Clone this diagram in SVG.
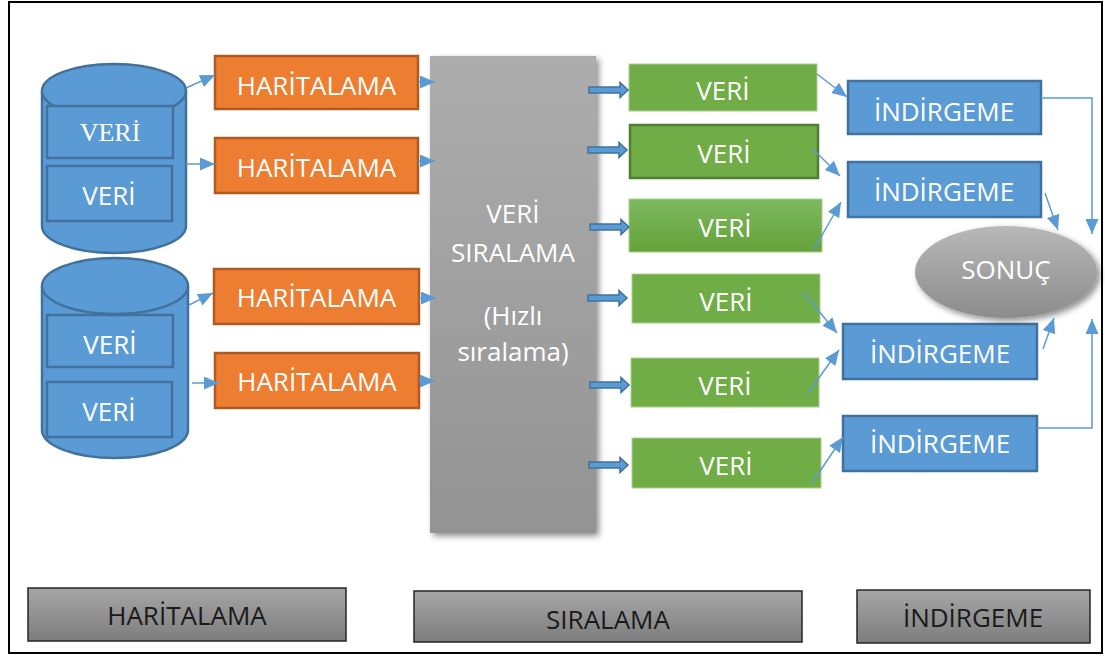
<svg xmlns="http://www.w3.org/2000/svg" width="1105" height="656" viewBox="0 0 1105 656">
  <defs>
    <style>
      .lbl { font-family: "Open Sans", "Liberation Sans", sans-serif; font-size: 26px; fill: #ffffff; text-anchor: middle; }
      .dark { fill: #1a1a1a; }
      .cyl { fill: #5B9BD5; stroke: #41719C; stroke-width: 2.5; }
      .slot { fill: #5B9BD5; stroke: #41719C; stroke-width: 2.5; }
      .map { fill: #ED7D31; stroke: #AE5A21; stroke-width: 2.5; }
      .data { fill: #70AD47; stroke: #A9D18E; stroke-width: 1; }
      .red { fill: #5B9BD5; stroke: #41719C; stroke-width: 2.5; }
      .bar { fill: url(#barGrad); stroke: #262626; stroke-width: 1.5; }
      .conn { fill: none; stroke: #5B9BD5; stroke-width: 1.5; marker-end: url(#head); }
      .block { fill: #5B9BD5; stroke: #41719C; stroke-width: 1.5; }
    </style>
    <marker id="head" markerUnits="userSpaceOnUse" markerWidth="15" markerHeight="13" refX="15" refY="6.5" orient="auto">
      <path d="M0,0 L15,6.5 L0,13 z" fill="#5B9BD5"/>
    </marker>
    <linearGradient id="panelGrad" x1="0" y1="0" x2="0" y2="1">
      <stop offset="0" stop-color="#ADADAD"/>
      <stop offset="1" stop-color="#939393"/>
    </linearGradient>
    <linearGradient id="ovalGrad" x1="0" y1="0" x2="0" y2="1">
      <stop offset="0" stop-color="#B8B8B8"/>
      <stop offset="1" stop-color="#8C8C8C"/>
    </linearGradient>
    <linearGradient id="barGrad" x1="0" y1="0" x2="0" y2="1">
      <stop offset="0" stop-color="#A6A6A6"/>
      <stop offset="1" stop-color="#7D7D7D"/>
    </linearGradient>
    <linearGradient id="greenGrad" x1="0" y1="0" x2="0" y2="1">
      <stop offset="0" stop-color="#7DB95F"/>
      <stop offset="1" stop-color="#65A23A"/>
    </linearGradient>
    <filter id="shadow" x="-20%" y="-10%" width="140%" height="125%">
      <feGaussianBlur in="SourceAlpha" stdDeviation="3"/>
      <feOffset dx="3" dy="3" result="b"/>
      <feComponentTransfer><feFuncA type="linear" slope="0.45"/></feComponentTransfer>
      <feMerge><feMergeNode/><feMergeNode in="SourceGraphic"/></feMerge>
    </filter>
    <!-- thick block arrow from sorting panel to data blocks -->
    <path id="blockArrow" d="M0,-3 L31,-3 L31,-7.5 L39,0 L31,7.5 L31,3 L0,3 z"/>
  </defs>

  <!-- frame -->
  <rect x="9" y="2" width="1093" height="651" fill="#ffffff" stroke="#000000" stroke-width="2"/>

  <!-- storage cylinders -->
  <g id="storage-1">
    <path class="cyl" d="M42,91 L42,226 A72,27 0 0 0 186,226 L186,91"/>
    <ellipse class="cyl" cx="114" cy="91" rx="72" ry="27"/>
    <rect class="slot" x="47" y="106" width="126" height="52"/>
    <text x="110" y="141" style="font-family:'Liberation Serif','Times New Roman',serif;font-size:26px;fill:#fff;text-anchor:middle">VERİ</text>
    <rect class="slot" x="47" y="166" width="125" height="55"/>
    <text class="lbl" x="109" y="205">VERİ</text>
  </g>
  <g id="storage-2">
    <path class="cyl" d="M42,286 L42,430 A73,28 0 0 0 188,430 L188,286"/>
    <ellipse class="cyl" cx="115" cy="286" rx="73" ry="28"/>
    <rect class="slot" x="47" y="315" width="126" height="52"/>
    <text class="lbl" x="110" y="354">VERİ</text>
    <rect class="slot" x="47" y="382" width="125" height="55"/>
    <text class="lbl" x="109" y="421">VERİ</text>
  </g>

  <!-- map stage -->
  <g id="map-1"><rect class="map" x="215" y="56" width="203" height="53"/><text class="lbl" x="316.5" y="95">HARİTALAMA</text></g>
  <g id="map-2"><rect class="map" x="215" y="138" width="203" height="55"/><text class="lbl" x="316.5" y="177">HARİTALAMA</text></g>
  <g id="map-3"><rect class="map" x="214" y="269" width="205" height="55"/><text class="lbl" x="316.5" y="307">HARİTALAMA</text></g>
  <g id="map-4"><rect class="map" x="215" y="353" width="204" height="55"/><text class="lbl" x="317" y="391">HARİTALAMA</text></g>

  <!-- sorting panel -->
  <g id="sort">
    <rect x="430" y="56" width="166" height="477" fill="url(#panelGrad)" filter="url(#shadow)"/>
    <text class="lbl" x="513" y="223">VERİ</text>
    <text class="lbl" x="513" y="262">SIRALAMA</text>
    <text class="lbl" x="513" y="325">(Hızlı</text>
    <text class="lbl" x="513" y="361">sıralama)</text>
  </g>

  <!-- sorted data blocks -->
  <g id="data-1"><rect class="data" x="629" y="64" width="188" height="47"/><text class="lbl" x="723" y="100">VERİ</text></g>
  <g id="data-2"><rect x="630" y="125" width="188" height="53" fill="#70AD47" stroke="#507E32" stroke-width="2.5"/><text class="lbl" x="724" y="163">VERİ</text></g>
  <g id="data-3"><rect x="629" y="199" width="193" height="53" fill="url(#greenGrad)" stroke="#A9D18E" stroke-width="1"/><text class="lbl" x="725" y="237">VERİ</text></g>
  <g id="data-4"><rect class="data" x="632" y="274" width="188" height="49"/><text class="lbl" x="726" y="311">VERİ</text></g>
  <g id="data-5"><rect class="data" x="631" y="358" width="188" height="49"/><text class="lbl" x="725" y="395">VERİ</text></g>
  <g id="data-6"><rect class="data" x="632" y="438" width="189" height="50"/><text class="lbl" x="726" y="475">VERİ</text></g>

  <!-- reduce stage -->
  <g id="reduce-1"><rect class="red" x="848" y="81" width="193" height="53"/><text class="lbl" x="944" y="121">İNDİRGEME</text></g>
  <g id="reduce-2"><rect class="red" x="848" y="162" width="193" height="55"/><text class="lbl" x="944" y="201">İNDİRGEME</text></g>
  <g id="reduce-3"><rect class="red" x="843" y="324" width="194" height="55"/><text class="lbl" x="940" y="363">İNDİRGEME</text></g>
  <g id="reduce-4"><rect class="red" x="843" y="416" width="194" height="55"/><text class="lbl" x="940" y="453">İNDİRGEME</text></g>

  <!-- result -->
  <g id="result">
    <ellipse cx="1006" cy="272" rx="91" ry="46" fill="url(#ovalGrad)" filter="url(#shadow)"/>
    <text class="lbl" x="1006" y="279">SONUÇ</text>
  </g>

  <!-- stage captions -->
  <g id="caption-map"><rect class="bar" x="28" y="588" width="318" height="53"/><text class="lbl dark" x="187" y="625">HARİTALAMA</text></g>
  <g id="caption-sort"><rect class="bar" x="414" y="591" width="388" height="51"/><text class="lbl dark" x="608" y="629">SIRALAMA</text></g>
  <g id="caption-reduce"><rect class="bar" x="857" y="590" width="233" height="53"/><text class="lbl dark" x="973" y="627">İNDİRGEME</text></g>

  <!-- connectors -->
  <g id="connectors">
    <line class="conn" x1="186" y1="88" x2="215" y2="75"/>
    <line class="conn" x1="186" y1="164" x2="215" y2="164"/>
    <line class="conn" x1="189" y1="305" x2="213" y2="293"/>
    <line class="conn" x1="192" y1="383" x2="219" y2="383"/>

    <line class="conn" x1="418" y1="82" x2="435" y2="82"/>
    <line class="conn" x1="418" y1="161" x2="435" y2="161"/>
    <line class="conn" x1="419" y1="298" x2="436" y2="298"/>
    <line class="conn" x1="419" y1="381" x2="435" y2="381"/>

    <use href="#blockArrow" class="block" x="589" y="90"/>
    <use href="#blockArrow" class="block" x="588" y="150"/>
    <use href="#blockArrow" class="block" x="590" y="227"/>
    <use href="#blockArrow" class="block" x="588" y="298"/>
    <use href="#blockArrow" class="block" x="590" y="385"/>
    <use href="#blockArrow" class="block" x="589" y="465"/>

    <line class="conn" x1="817" y1="74" x2="847" y2="97"/>
    <line class="conn" x1="812" y1="148" x2="840" y2="176"/>
    <line class="conn" x1="813" y1="251" x2="841" y2="202"/>
    <line class="conn" x1="803" y1="292" x2="837" y2="333"/>
    <line class="conn" x1="808" y1="393" x2="839" y2="350"/>
    <line class="conn" x1="812" y1="483" x2="843" y2="437"/>

    <polyline class="conn" points="1041,98 1092,98 1092,234"/>
    <line class="conn" x1="1045" y1="193" x2="1058" y2="230"/>
    <line class="conn" x1="1043" y1="349" x2="1054" y2="318"/>
    <polyline class="conn" points="1037,428 1092,428 1092,319"/>
  </g>
</svg>
